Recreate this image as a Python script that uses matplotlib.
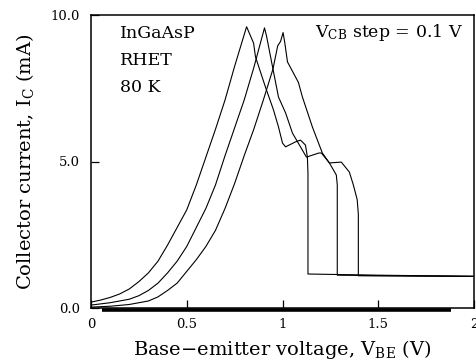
"""RHET collector current vs base-emitter voltage at 80 K, three V_CB steps."""

import matplotlib
matplotlib.use("Agg")
import matplotlib.pyplot as plt

# curve 1 (lowest V_CB)
V1 = [0.0, 0.05, 0.1, 0.15, 0.2, 0.25, 0.3, 0.35, 0.4, 0.45, 0.5, 0.55, 0.6,
      0.65, 0.7, 0.75, 0.8125, 0.849, 0.859, 0.911, 0.953, 0.979, 1.0, 1.016,
      1.068, 1.094, 1.12, 1.13, 1.133, 1.133, 1.5, 2.0]
I1 = [0.2, 0.27, 0.36, 0.48, 0.65, 0.9, 1.2, 1.6, 2.15, 2.75, 3.35, 4.2, 5.15,
      6.1, 7.1, 8.25, 9.6, 9.04, 8.57, 7.54, 6.76, 6.18, 5.63, 5.5,
      5.67, 5.73, 5.56, 5.15, 4.6, 1.16, 1.12, 1.08]

# curve 2
V2 = [0.0, 0.1, 0.2, 0.25, 0.3, 0.35, 0.4, 0.45, 0.5, 0.55, 0.6, 0.65, 0.7,
      0.75, 0.8, 0.85, 0.906, 0.916, 0.948, 0.979, 1.016, 1.052, 1.094, 1.125,
      1.19, 1.203, 1.245, 1.281, 1.286, 1.286, 1.6, 2.0]
I2 = [0.1, 0.18, 0.3, 0.42, 0.6, 0.85, 1.2, 1.6, 2.1, 2.75, 3.4, 4.2, 5.2,
      6.15, 7.1, 8.2, 9.56, 9.3, 8.23, 7.2, 6.66, 5.97, 5.5, 5.15,
      5.29, 5.29, 4.95, 4.54, 4.2, 1.12, 1.1, 1.08]

# curve 3 (highest V_CB)
V3 = [0.0, 0.1, 0.2, 0.3, 0.35, 0.4, 0.45, 0.5, 0.55, 0.6, 0.65, 0.7, 0.75,
      0.8, 0.85, 0.9, 0.95, 0.975, 0.99, 1.003, 1.012, 1.026, 1.083, 1.104,
      1.156, 1.208, 1.245, 1.307, 1.349, 1.37, 1.39, 1.396, 1.396, 1.7, 2.0]
I3 = [0.03, 0.06, 0.12, 0.24, 0.38, 0.6, 0.85, 1.25, 1.65, 2.1, 2.65, 3.4, 4.25,
      5.2, 6.1, 7.1, 8.15, 8.95, 9.1, 9.4, 9.05, 8.4, 7.7, 7.2,
      6.18, 5.29, 4.95, 4.98, 4.64, 4.2, 3.7, 3.2, 1.1, 1.09, 1.08]

# heavy printed baseline under the x axis
BASE_V = [0.06, 1.88]
BASE_I = [-0.08, -0.08]

X_TICKS = [0, 0.5, 1, 1.5, 2]
X_LABELS = ["0", "0.5", "1", "1.5", "2"]
Y_TICKS = [0, 5, 10]
Y_LABELS = ["0.0", "5.0", "10.0"]

plt.rcParams["font.family"] = "DejaVu Serif"
plt.rcParams["mathtext.default"] = "regular"

fig = plt.figure(figsize=(4.76, 3.62), dpi=100)
ax = fig.add_axes([91 / 476, 1 - 308 / 362, 383 / 476, 293 / 362])

for v, i in ((V1, I1), (V2, I2), (V3, I3)):
    ax.plot(v, i, color="black", lw=0.8)
ax.plot(BASE_V, BASE_I, color="black", lw=2.6, clip_on=False, solid_capstyle="butt")

ax.set_xlim(0, 2)
ax.set_ylim(0, 10)
ax.set_xticks(X_TICKS, X_LABELS)
ax.set_yticks(Y_TICKS, Y_LABELS)
ax.tick_params(direction="in", length=6, width=0.9, labelsize=9.5, pad=7)
ax.tick_params(axis="y", pad=8)
for s in ax.spines.values():
    s.set_linewidth(1.1)

ax.set_xlabel("Base\u2212emitter voltage, $V_{BE}$ (V)", fontsize=14, labelpad=5)
ax.set_ylabel("Collector current, $I_C$ (mA)", fontsize=14)
ax.yaxis.set_label_coords(-0.143, 0.5)

ax.text(0.075, 0.965, "InGaAsP\nRHET\n80 K", transform=ax.transAxes,
        fontsize=12.5, va="top", ha="left", linespacing=1.75)
ax.text(0.971, 0.975, "$V_{CB}$ step = 0.1 V", transform=ax.transAxes,
        fontsize=12.5, va="top", ha="right")

fig.savefig("out.png", dpi=100)
